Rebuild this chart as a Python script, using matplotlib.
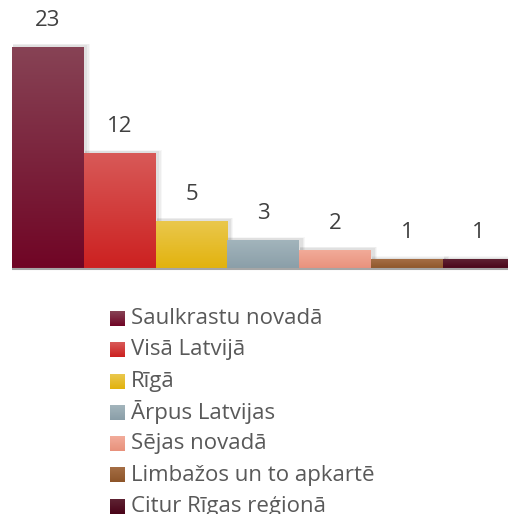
import matplotlib
matplotlib.use("Agg")
import matplotlib.pyplot as plt
import numpy as np
from matplotlib.patches import Rectangle
from matplotlib.colors import LinearSegmentedColormap

categories = ["Saulkrastu novadā", "Visā Latvijā", "Rīgā", "Ārpus Latvijas",
              "Sējas novadā", "Limbažos un to apkartē", "Citur Rīgas reģionā"]
values = [23, 12, 5, 3, 2, 1, 1]
top_colors = ["#874355", "#d85a58", "#eac84e", "#a3b5bc", "#f2ac9a", "#a56e45", "#5e2233"]
bottom_colors = ["#700525", "#cc2020", "#e2b20c", "#8a9ea8", "#e8917c", "#8d5529", "#4a0418"]

plt.rcParams['font.family'] = ['Open Sans', 'DejaVu Sans']

W, H = 508, 514
fig = plt.figure(figsize=(W / 100, H / 100), dpi=100)
px_per_unit_x = 71.8
ax_left_px, ax_right_px = 12, 508
baseline_px = 269
px_per_val = 9.67
ax = fig.add_axes([ax_left_px / W, (H - baseline_px) / H,
                   (ax_right_px - ax_left_px) / W, baseline_px / H])
ax.set_xlim(0, (ax_right_px - ax_left_px) / px_per_unit_x)
ax.set_ylim(0, baseline_px / px_per_val)
ax.axis('off')

def gradient_fill(ax, x0, y0, w, h, c_top, c_bot, z=2):
    cmap = LinearSegmentedColormap.from_list("g", [c_bot, c_top])
    grad = np.linspace(0, 1, 256).reshape(-1, 1)
    im = ax.imshow(grad, cmap=cmap, origin='lower', aspect='auto',
                   extent=(x0, x0 + w, y0, y0 + h), zorder=z, interpolation='bicubic')
    rect = Rectangle((x0, y0), w, h, transform=ax.transData, facecolor='none', edgecolor='none')
    ax.add_patch(rect)
    im.set_clip_path(rect)
    return im

for i, (v, ct, cb) in enumerate(zip(values, top_colors, bottom_colors)):
    # soft shadow (mostly to the right and top)
    for d, a in [(5, 0.03), (4, 0.04), (2.5, 0.05)]:
        ax.add_patch(Rectangle((i + 1 / px_per_unit_x, 0), 1 + d / px_per_unit_x,
                               v + d * 0.6 / px_per_val,
                               facecolor='black', alpha=a, edgecolor='none', zorder=1))
    gradient_fill(ax, i, 0, 1, v, ct, cb)
    ax.text(i + 0.5, v + 16 / px_per_val, str(v), ha='center', va='bottom',
            fontsize=16, color='#404040', zorder=5)

ax.plot([0, 10], [0, 0], color='#a6a6a6', lw=1.5, zorder=3, clip_on=False, solid_capstyle='butt')
ax.set_xlim(0, (ax_right_px - ax_left_px) / px_per_unit_x)

# legend
leg_ax = fig.add_axes([0, 0, 1, 1])
leg_ax.set_xlim(0, W)
leg_ax.set_ylim(H, 0)
leg_ax.axis('off')
row0 = 318.5
row_step = 31.3
for j, (name, ct, cb) in enumerate(zip(categories, top_colors, bottom_colors)):
    yc = row0 + j * row_step
    cmap = LinearSegmentedColormap.from_list("g", [ct, cb])
    grad = np.linspace(0, 1, 64).reshape(-1, 1)
    leg_ax.imshow(grad, cmap=cmap, aspect='auto', extent=(110, 125, yc + 7.5, yc - 7.5),
                  origin='upper', zorder=2)
    leg_ax.text(131, yc, name, ha='left', va='center', fontsize=16, color='#595959')
leg_ax.set_xlim(0, W)
leg_ax.set_ylim(H, 0)

fig.savefig("out.png", dpi=100)
